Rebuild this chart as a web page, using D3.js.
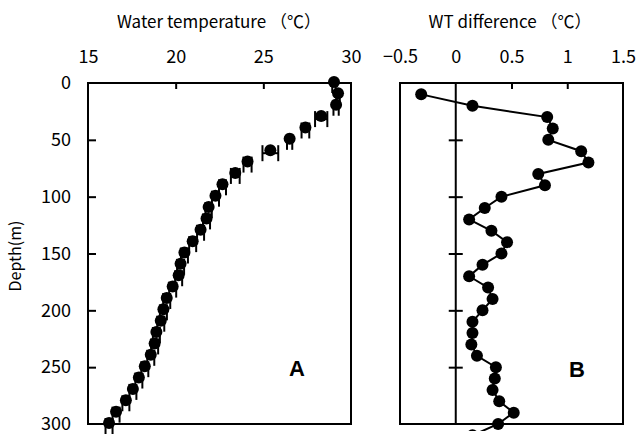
<!DOCTYPE html>
<html>
<head>
<meta charset="utf-8">
<script src="https://cdn.jsdelivr.net/npm/d3@7"></script>
<style>
  body { margin: 0; background: #fff; }
  svg text { font-family: "Noto Sans CJK JP", "Noto Sans", sans-serif; fill: #000; }
</style>
</head>
<body>
<div id="figure"></div>
<script>
// depth (m) of each sample
var depthA = [0, 10, 20, 30, 40, 50, 60, 70, 80, 90, 100, 110, 120, 130, 140, 150,
              160, 170, 180, 190, 200, 210, 220, 230, 240, 250, 260, 270, 280, 290, 300];
// mean water temperature (deg C)
var tempA = [29.03, 29.26, 29.15, 28.3, 27.4, 26.5, 25.4, 24.1, 23.4, 22.67, 22.27, 21.88,
             21.76, 21.42, 20.97, 20.5, 20.28, 20.17, 19.83, 19.49, 19.3, 19.15, 18.9, 18.8,
             18.58, 18.24, 17.9, 17.56, 17.16, 16.6, 16.2];
// error (deg C)
var errA = [0.1, 0.1, 0.15, 0.35, 0.22, 0.15, 0.45, 0.23, 0.25, 0.2, 0.2, 0.18, 0.2, 0.2,
            0.2, 0.2, 0.2, 0.2, 0.2, 0.2, 0.2, 0.2, 0.2, 0.2, 0.2, 0.2, 0.2, 0.2, 0.2, 0.2, 0.2];

var depthB = [10, 20, 30, 40, 50, 60, 70, 80, 90, 100, 110, 120, 130, 140, 150, 160, 170,
              180, 190, 200, 210, 220, 230, 240, 250, 260, 270, 280, 290, 300, 310];
var diffB = [-0.31, 0.15, 0.82, 0.87, 0.83, 1.125, 1.19, 0.74, 0.80, 0.41, 0.26, 0.12, 0.32,
             0.46, 0.41, 0.24, 0.12, 0.29, 0.33, 0.24, 0.15, 0.15, 0.14, 0.19, 0.36, 0.35,
             0.33, 0.39, 0.52, 0.38, 0.15];

var depthTicks = [0, 50, 100, 150, 200, 250, 300];
var tempTicks = [15, 20, 25, 30];
var diffTicks = [-0.5, 0, 0.5, 1, 1.5];

var width = 637, height = 436;
var top_y = 83, bottom_y = 424;

var svg = d3.select("#figure")
    .append("svg")
    .attr("width", width)
    .attr("height", height);

var y = d3.scaleLinear().domain([0, 300]).range([top_y, bottom_y]);
var xA = d3.scaleLinear().domain([15, 30]).range([88, 351]);
var xB = d3.scaleLinear().domain([-0.5, 1.5]).range([400, 623]);

var fmt = function (d) { return String(d).replace("-", "\u2212"); };

function labels(x, ticks) {
    var g = svg.append("g")
        .attr("transform", `translate(0,${top_y})`)
        .call(d3.axisTop(x).tickValues(ticks).tickSize(0).tickPadding(20).tickFormat(fmt));
    g.select(".domain").remove();
    g.selectAll("text").attr("font-size", 18).attr("font-family", null);
}
labels(xA, tempTicks);
labels(xB, diffTicks);

// depth labels
var yl = svg.append("g")
    .attr("transform", "translate(88,0)")
    .call(d3.axisLeft(y).tickValues(depthTicks).tickSize(0).tickPadding(17));
yl.select(".domain").remove();
yl.selectAll("text").attr("font-size", 18).attr("font-family", null);

svg.append("text")
    .attr("transform", "translate(21,256) rotate(-90)")
    .attr("text-anchor", "middle")
    .attr("font-size", 16)
    .text("Depth(m)");

svg.append("text")
    .attr("x", 219).attr("y", 28)
    .attr("text-anchor", "middle")
    .attr("font-size", 17)
    .text("Water temperature （℃）");

svg.append("text")
    .attr("x", 510).attr("y", 28)
    .attr("text-anchor", "middle")
    .attr("font-size", 17)
    .text("WT difference （℃）");

// ---- panel A ----
svg.append("rect")
    .attr("x", xA(15)).attr("y", top_y)
    .attr("width", xA(30) - xA(15)).attr("height", bottom_y - top_y)
    .attr("fill", "none").attr("stroke", "#000").attr("stroke-width", 2);

svg.append("g")
    .attr("transform", `translate(0,${top_y})`)
    .call(d3.axisBottom(xA).tickValues([20, 25]).tickSize(6).tickFormat(""))
    .call(g => g.select(".domain").remove())
    .selectAll("line").attr("stroke-width", 2);

svg.append("g")
    .attr("transform", `translate(${xA(15)},0)`)
    .call(d3.axisRight(y).tickValues([50, 100, 150, 200, 250]).tickSize(8).tickFormat(""))
    .call(g => g.select(".domain").remove())
    .selectAll("line").attr("stroke-width", 2);

var dataA = depthA.map((d, i) => ({ depth: d, t: tempA[i], e: errA[i] }));

var eb = svg.append("g").attr("stroke", "#000").attr("stroke-width", 2);
dataA.forEach(function (d) {
    var yy = y(d.depth);
    var x0 = xA(d.t - d.e), x1 = xA(d.t + d.e);
    eb.append("line").attr("x1", x0).attr("x2", x1).attr("y1", yy + 2).attr("y2", yy + 2);
    eb.append("line").attr("x1", x0).attr("x2", x0).attr("y1", yy - 6).attr("y2", yy + 10);
    eb.append("line").attr("x1", x1).attr("x2", x1).attr("y1", yy - 6).attr("y2", yy + 10);
});

svg.append("g").selectAll("circle")
    .data(dataA)
    .join("circle")
    .attr("cx", d => xA(d.t))
    .attr("cy", d => y(d.depth) - 1)
    .attr("r", 6)
    .attr("fill", "#000");

svg.append("text")
    .attr("x", 297).attr("y", 376)
    .attr("text-anchor", "middle")
    .attr("font-size", 22).attr("font-weight", "bold")
    .style("font-family", "'Liberation Sans', Arial, sans-serif")
    .text("A");

// ---- panel B ----
svg.append("rect")
    .attr("x", xB(-0.5)).attr("y", top_y)
    .attr("width", xB(1.5) - xB(-0.5)).attr("height", bottom_y - top_y)
    .attr("fill", "none").attr("stroke", "#000").attr("stroke-width", 2);

svg.append("g")
    .attr("transform", `translate(0,${top_y})`)
    .call(d3.axisBottom(xB).tickValues([0.5, 1]).tickSize(6).tickFormat(""))
    .call(g => g.select(".domain").remove())
    .selectAll("line").attr("stroke-width", 2);

// zero line with crossing ticks
svg.append("line")
    .attr("x1", xB(0)).attr("x2", xB(0))
    .attr("y1", top_y).attr("y2", bottom_y)
    .attr("stroke", "#000").attr("stroke-width", 2);
svg.append("g")
    .attr("transform", `translate(${xB(0) - 7},0)`)
    .call(d3.axisRight(y).tickValues([50, 100, 150, 200, 250]).tickSize(14).tickFormat(""))
    .call(g => g.select(".domain").remove())
    .selectAll("line").attr("stroke-width", 2);

var dataB = depthB.map((d, i) => ({ depth: d, v: diffB[i] }));

svg.append("clipPath").attr("id", "clipB")
    .append("rect")
    .attr("x", xB(-0.5)).attr("y", 70)
    .attr("width", xB(1.5) - xB(-0.5)).attr("height", 361);

var gB = svg.append("g").attr("clip-path", "url(#clipB)");
gB.append("path")
    .datum(dataB)
    .attr("fill", "none")
    .attr("stroke", "#000")
    .attr("stroke-width", 2)
    .attr("d", d3.line().x(d => xB(d.v)).y(d => y(d.depth)));

gB.selectAll("circle")
    .data(dataB)
    .join("circle")
    .attr("cx", d => xB(d.v))
    .attr("cy", d => y(d.depth))
    .attr("r", 6)
    .attr("fill", "#000");

svg.append("text")
    .attr("x", 577).attr("y", 377)
    .attr("text-anchor", "middle")
    .attr("font-size", 22).attr("font-weight", "bold")
    .style("font-family", "'Liberation Sans', Arial, sans-serif")
    .text("B");
</script>
</body>
</html>
